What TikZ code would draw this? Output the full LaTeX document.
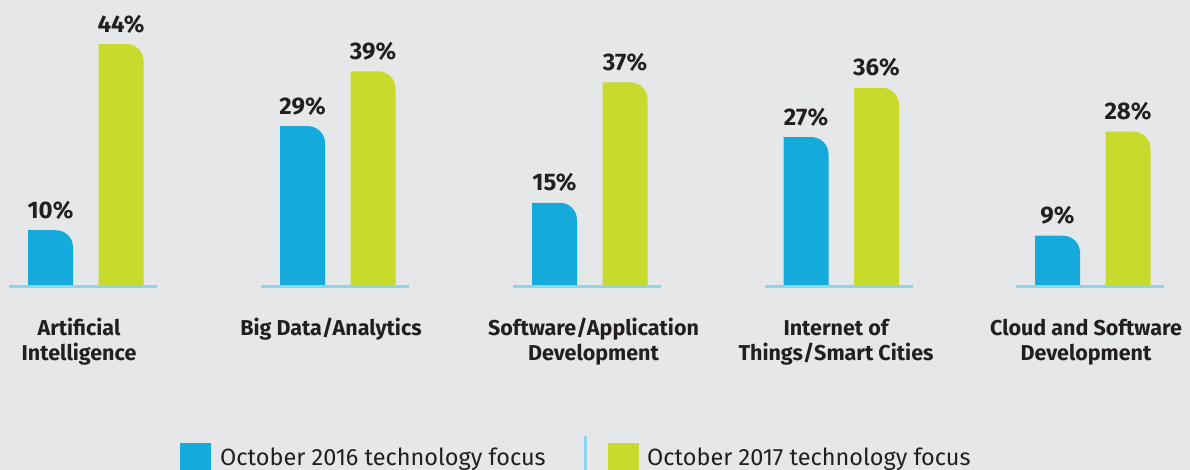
\documentclass[tikz,border=0pt]{standalone}
\usepackage{fontspec}
\setmainfont{Fira Sans}
\definecolor{bg}{HTML}{E6E7E9}
\definecolor{barblue}{HTML}{14AADC}
\definecolor{bargreen}{HTML}{C8DA2C}
\definecolor{axisline}{HTML}{8DD5EE}
\definecolor{txt}{HTML}{231F20}
\tikzset{
  val/.style={font=\bfseries\fontsize{24}{26}\selectfont, text=txt, anchor=base, inner sep=0pt},
  cat/.style={font=\bfseries\fontsize{21.5}{25}\selectfont, text=txt, align=center, anchor=base, inner sep=0pt},
  leg/.style={font=\fontsize{23.5}{26}\selectfont, text=txt, anchor=base west, inner sep=0pt},
  axis/.style={draw=axisline, line width=3pt},
}
\newcommand\chartbar[4]{%
  \pgfmathsetmacro\tp{285-5.477*#3}%
  \fill[#4] (#2,285) -- (#2,\tp) -- ({#2+28},\tp) .. controls ({#2+37.4},\tp) and ({#2+45},{\tp+7.6}) .. ({#2+45},{\tp+17}) -- ({#2+45},285) -- cycle;
  \node[val] (#1) at ({#2+22.5},{\tp-12}) {#3\%};
}
\begin{document}
\begin{tikzpicture}[x=1pt,y=-1pt]
\fill[bg] (0,0) rectangle (1190,470);
\useasboundingbox (0,0) rectangle (1190,470);
% group 1
\chartbar{v1a}{28}{10}{barblue}
\chartbar{v1b}{98.5}{44}{bargreen}
\coordinate (a1l) at (9,286.5); \coordinate (a1r) at (157,286.5);
\draw[axis] (a1l) -- (a1r);
\node[cat] (c1) at (79,360) {Artificial\\Intelligence};
% group 2
\chartbar{v2a}{280}{29}{barblue}
\chartbar{v2b}{350.5}{39}{bargreen}
\coordinate (a2l) at (261,286.5); \coordinate (a2r) at (409,286.5);
\draw[axis] (a2l) -- (a2r);
\node[cat] (c2) at (331,335) {Big Data/Analytics};
% group 3
\chartbar{v3a}{532}{15}{barblue}
\chartbar{v3b}{602.5}{37}{bargreen}
\coordinate (a3l) at (513,286.5); \coordinate (a3r) at (661,286.5);
\draw[axis] (a3l) -- (a3r);
\node[cat] (c3) at (593.5,360) {Software/Application\\Development};
% group 4
\chartbar{v4a}{783.5}{27}{barblue}
\chartbar{v4b}{854}{36}{bargreen}
\coordinate (a4l) at (765,286.5); \coordinate (a4r) at (913,286.5);
\draw[axis] (a4l) -- (a4r);
\node[cat] (c4) at (836,360) {Internet of\\Things/Smart Cities};
% group 5
\chartbar{v5a}{1035}{9}{barblue}
\chartbar{v5b}{1105.5}{28}{bargreen}
\coordinate (a5l) at (1016,286.5); \coordinate (a5r) at (1164,286.5);
\draw[axis] (a5l) -- (a5r);
\node[cat] (c5) at (1086,360) {Cloud and Software\\Development};
% legend
\fill[barblue] (180,443) rectangle (211,470);
\node[leg] (l1) at (220,465) {October 2016 technology focus};
\coordinate (s1) at (585,436); \coordinate (s2) at (585,470);
\draw[axis] (s1) -- (s2);
\fill[bargreen] (608,443) rectangle (639,470);
\node[leg] (l2) at (647,465) {October 2017 technology focus};
\end{tikzpicture}
\end{document}
